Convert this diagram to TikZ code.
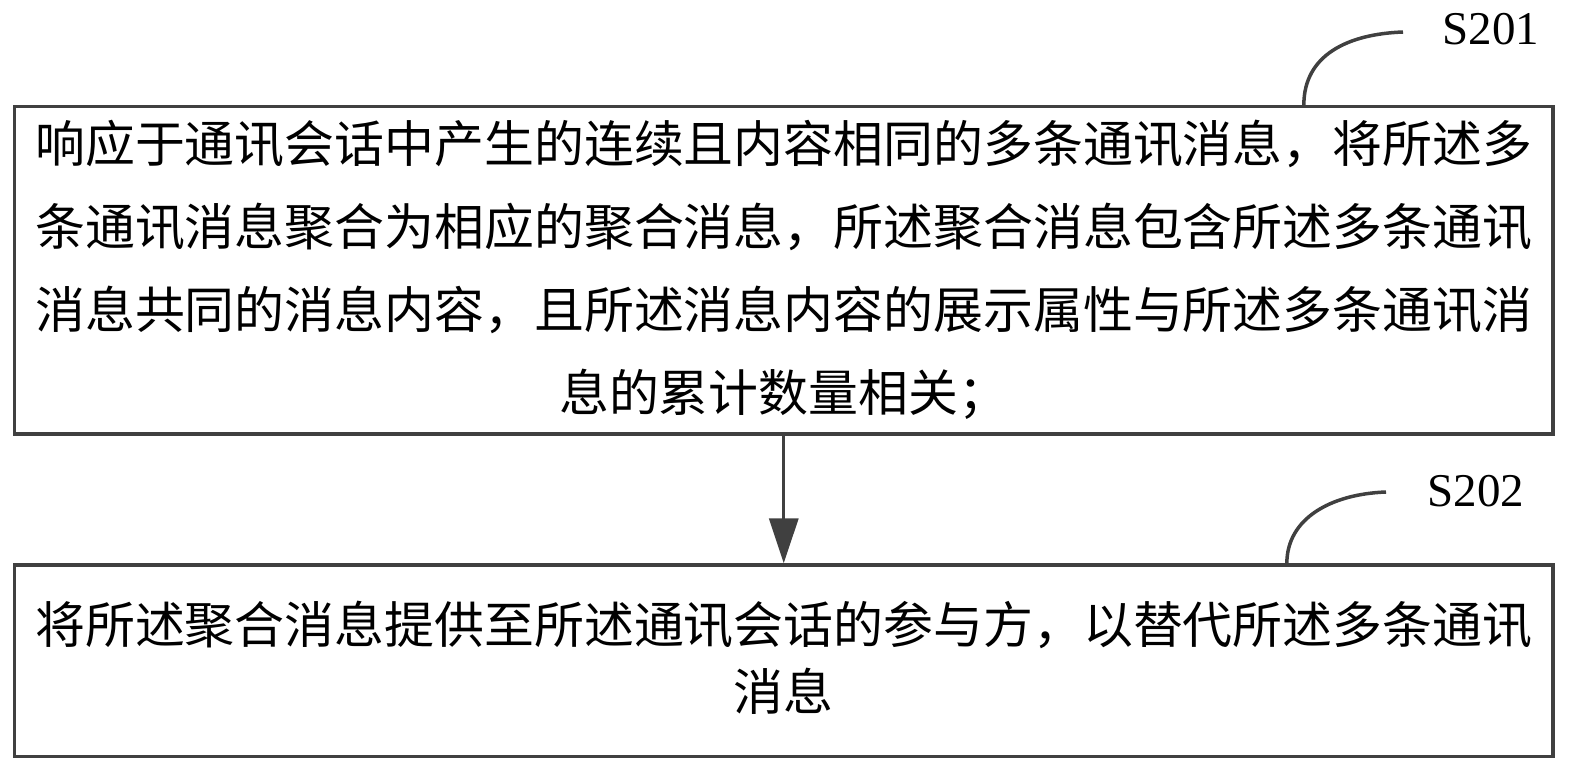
\documentclass[tikz,border=0pt]{standalone}
\usepackage{fontspec}
\setmainfont{Liberation Serif}
\newfontfamily\cjk{Noto Sans CJK SC}
\usetikzlibrary{arrows.meta}
\definecolor{linegray}{RGB}{64,64,64}
\begin{document}
\begin{tikzpicture}[x=1pt,y=-1pt,
  stepbox/.style={draw=linegray,line width=3.3pt,minimum width=1538.5pt,inner sep=0pt,align=center,
    font=\cjk\fontsize{49.9pt}{83pt}\selectfont},
  steplabel/.style={inner sep=0pt,font=\fontsize{47pt}{56pt}\selectfont},
  lead/.style={draw=linegray,line width=3.5pt},
  conn/.style={draw=linegray,line width=3.3pt,-{Triangle[length=45pt,width=29pt]}}]
\useasboundingbox (0,0) rectangle (1569,772);
\node[stepbox,minimum height=327.5pt] (b1) at (783.75,270.25)
  {响应于通讯会话中产生的连续且内容相同的多条通讯消息，将所述多\\
   条通讯消息聚合为相应的聚合消息，所述聚合消息包含所述多条通讯\\
   消息共同的消息内容，且所述消息内容的展示属性与所述多条通讯消\\
   息的累计数量相关；};
\node[stepbox,minimum height=191.5pt,font=\cjk\fontsize{49.9pt}{67pt}\selectfont] (b2) at (783.75,660.75)
  {将所述聚合消息提供至所述通讯会话的参与方，以替代所述多条通讯\\
   消息\rule[-10pt]{0pt}{0pt}};
\draw[conn] (b1.south) -- (b2.north);
\node[steplabel] (l1) at (1491,29.5) {S201};
\node[steplabel] (l2) at (1476,491.5) {S202};
\coordinate (c1) at (1403,32);
\coordinate (c2) at (1386,492);
\draw[lead] ([xshift=1291pt]b1.north west) .. controls +(0,-50) and +(-55,2) .. (c1);
\draw[lead] ([xshift=1274pt]b2.north west) .. controls +(0,-45) and +(-55,2) .. (c2);
\end{tikzpicture}
\end{document}
